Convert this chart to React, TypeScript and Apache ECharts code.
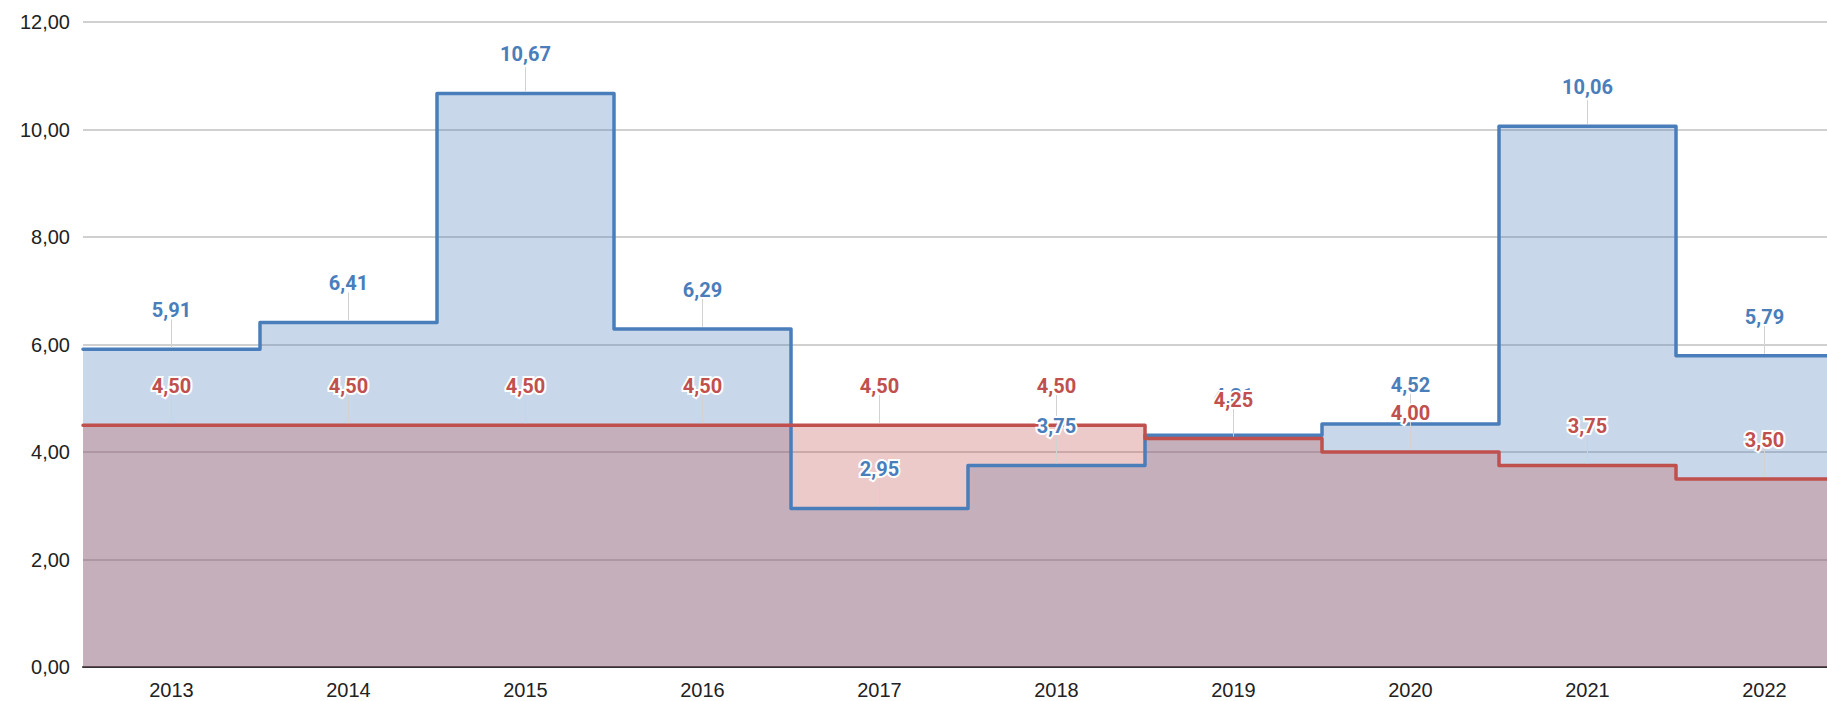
import { useEffect, useRef } from 'react';
import * as echarts from 'echarts';

const years = ['2013', '2014', '2015', '2016', '2017', '2018', '2019', '2020', '2021', '2022'];
const ipca = [5.91, 6.41, 10.67, 6.29, 2.95, 3.75, 4.31, 4.52, 10.06, 5.79];
const meta = [4.5, 4.5, 4.5, 4.5, 4.5, 4.5, 4.25, 4.0, 3.75, 3.5];
const yMin = 0;
const yMax = 12;
const yStep = 2;

const BLUE = '#4a7ebb';
const RED = '#c0504d';

const fmt = (v: number) => v.toFixed(2).replace('.', ',');

function stepData(vals: number[]) {
  const n = vals.length;
  return [[-0.5, vals[0]], ...vals.map((v, i) => [i, v]), [n - 0.5, vals[n - 1]]];
}

function lineSeries(name: string, vals: number[], color: string) {
  return {
    type: 'line',
    name,
    xAxisIndex: 1,
    yAxisIndex: 0,
    data: stepData(vals),
    step: 'middle',
    symbol: 'none',
    z: 2,
    lineStyle: { color, width: 3.5, cap: 'round', join: 'round' },
    itemStyle: { color },
    areaStyle: { color, opacity: 0.3 },
  };
}

function labelSeries(name: string, vals: number[], color: string) {
  return {
    type: 'custom',
    name: name + ' labels',
    xAxisIndex: 1,
    yAxisIndex: 0,
    z: 5,
    silent: true,
    data: vals.map((v, i) => [i, v]),
    renderItem: (_params: any, api: any) => {
      const p = api.coord([api.value(0), api.value(1)]);
      return {
        type: 'group',
        children: [
          {
            type: 'line',
            z2: 0,
            shape: { x1: p[0], y1: p[1] - 2, x2: p[0], y2: p[1] - 30 },
            style: { stroke: '#d2d2d2', lineWidth: 1 },
          },
          {
            type: 'text',
            z2: 10,
            x: p[0],
            y: p[1] - 39,
            style: {
              text: fmt(api.value(1)),
              fill: color,
              stroke: '#ffffff',
              lineWidth: 4,
              font: 'bold 20px Roboto, "Liberation Sans", Arial, sans-serif',
              align: 'center',
              verticalAlign: 'middle',
            },
          },
        ],
      };
    },
  };
}

export default function App() {
  const ref = useRef<HTMLDivElement>(null);
  useEffect(() => {
    document.body.style.margin = '0';
    if (!ref.current) return;
    const chart = echarts.init(ref.current, undefined, { renderer: 'svg' });
    chart.setOption({
      animation: false,
      backgroundColor: '#ffffff',
      grid: { left: 83, top: 22, right: 0, height: 645, containLabel: false },
      xAxis: [
        {
          type: 'category',
          data: years,
          boundaryGap: true,
          position: 'bottom',
          axisLine: { show: true, lineStyle: { color: '#333333', width: 2 } },
          axisTick: { show: false },
          splitLine: { show: false },
          axisLabel: {
            interval: 0,
            fontSize: 20,
            color: '#222222',
            margin: 13,
            fontFamily: '"Liberation Sans", Arial, sans-serif',
          },
        },
        {
          type: 'value',
          show: false,
          min: -0.5,
          max: years.length - 0.5,
          position: 'bottom',
          splitLine: { show: false },
        },
      ],
      yAxis: {
        type: 'value',
        min: yMin,
        max: yMax,
        interval: yStep,
        axisLine: { show: false },
        axisTick: { show: false },
        splitLine: { show: true, lineStyle: { color: '#d0d0d0', width: 2 } },
        axisLabel: {
          formatter: (v: number) => fmt(v),
          fontSize: 20,
          color: '#222222',
          margin: 13,
          fontFamily: '"Liberation Sans", Arial, sans-serif',
        },
      },
      series: [
        lineSeries('IPCA', ipca, BLUE),
        lineSeries('Meta', meta, RED),
        labelSeries('IPCA', ipca, BLUE),
        labelSeries('Meta', meta, RED),
      ],
    });
    return () => chart.dispose();
  }, []);
  return (
    <div style={{ width: 1827, height: 701, overflow: 'hidden', position: 'relative' }}>
      <div ref={ref} style={{ width: 1853, height: 701 }} />
    </div>
  );
}
